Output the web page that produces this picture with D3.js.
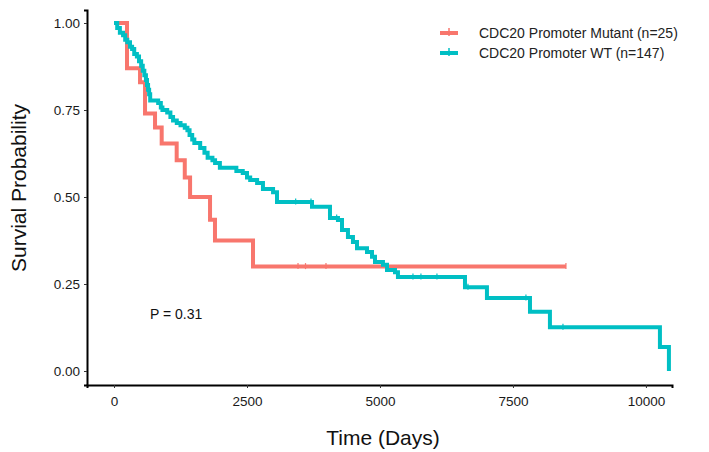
<!DOCTYPE html>
<html>
<head>
<meta charset="utf-8">
<script src="https://cdn.jsdelivr.net/npm/d3@7"></script>
<style>
  html, body { margin: 0; padding: 0; background: #fff; }
  svg { display: block; font-family: "Liberation Sans", Arial, sans-serif; }
</style>
</head>
<body>
<svg id="chart" width="709" height="452"></svg>
<script>
// ---- data ----
const seriesNames = ["CDC20 Promoter Mutant (n=25)", "CDC20 Promoter WT (n=147)"];
const seriesColors = ["#F8766D", "#00BFC4"];

// Mutant: time of each step (days) and survival after the step
const mutantTime = [0, 244, 489, 583, 771, 896, 1178, 1330, 1430, 1805, 1898, 2613, 8496];
const mutantSurv = [1.0, 0.87, 0.83, 0.74, 0.70, 0.654, 0.606, 0.556, 0.50, 0.435, 0.375, 0.30, 0.30];
const mutantCensor = [3459, 3600, 3985, 8496];

// WT
const wtTime = [0, 60, 110, 170, 210, 250, 300, 340, 380, 430, 470, 510, 540, 570, 600, 620, 640, 660, 680,
  830, 880, 910, 1000, 1060, 1110, 1180, 1250, 1330, 1380, 1420, 1470, 1510, 1620, 1700, 1760, 1850, 1900, 1990,
  2300, 2420, 2500, 2560, 2690, 2800, 2990, 3064, 3722, 4060, 4210, 4286, 4398, 4492, 4568, 4756, 4850, 4906,
  5056, 5132, 5282, 5338, 6598, 7011, 7820, 8195, 10263, 10432];
const wtSurv = [1.0, 0.986, 0.972, 0.965, 0.952, 0.945, 0.932, 0.925, 0.911, 0.904, 0.890, 0.877, 0.863, 0.850, 0.836, 0.822, 0.808, 0.795, 0.777,
  0.770, 0.757, 0.750, 0.743, 0.730, 0.720, 0.713, 0.706, 0.699, 0.692, 0.678, 0.665, 0.655, 0.641, 0.627, 0.613, 0.606, 0.598, 0.584,
  0.575, 0.569, 0.556, 0.549, 0.540, 0.523, 0.514, 0.486, 0.472, 0.440, 0.434, 0.405, 0.385, 0.371, 0.353, 0.342, 0.328, 0.313,
  0.305, 0.290, 0.284, 0.270, 0.241, 0.210, 0.170, 0.126, 0.069, 0.0];
const wtCensor = [3415, 3703, 4186, 5620, 5770, 6071, 6654, 7744, 8440];

const xTicks = [0, 2500, 5000, 7500, 10000];
const yTicks = [0, 0.25, 0.5, 0.75, 1.0];
const pValueLabel = "P = 0.31";
const xTitle = "Time (Days)";
const yTitle = "Survial Probability";

// ---- drawing ----
const svg = d3.select("#chart");
const x = d3.scaleLinear().domain([-508, 10490]).range([87, 672]);
const y = d3.scaleLinear().domain([-0.0402, 1.0374]).range([385, 10]);

function survAt(times, surv, t) {
  let s = surv[0];
  for (let i = 0; i < times.length; i++) { if (times[i] <= t) s = surv[i]; }
  return s;
}

// axes
const xAxis = svg.append("g").attr("transform", "translate(0,385)")
  .call(d3.axisBottom(x).tickValues(xTicks).tickFormat(d3.format("d")).tickSize(3).tickPadding(8));
const yAxis = svg.append("g").attr("transform", "translate(87,0)")
  .call(d3.axisLeft(y).tickValues(yTicks).tickFormat(d3.format(".2f")).tickSize(3).tickPadding(4));
[xAxis, yAxis].forEach(g => {
  g.select(".domain").attr("stroke", "#000").attr("stroke-width", 2);
  g.selectAll(".tick line").attr("stroke", "#333").attr("stroke-width", 1);
  g.selectAll(".tick text").attr("fill", "#1a1a1a").attr("font-size", 13.5)
    .attr("font-family", "'Liberation Sans', Arial, sans-serif");
});

// curves
const line = d3.line().x(d => x(d[0])).y(d => y(d[1])).curve(d3.curveStepAfter);
const series = [
  { t: mutantTime, s: mutantSurv, c: mutantCensor, color: seriesColors[0] },
  { t: wtTime, s: wtSurv, c: wtCensor, color: seriesColors[1] }
];
series.forEach(sr => {
  const pts = sr.t.map((t, i) => [t, sr.s[i]]);
  svg.append("path").datum(pts).attr("d", line)
    .attr("fill", "none").attr("stroke", sr.color).attr("stroke-width", 4)
    .attr("stroke-linejoin", "miter").attr("stroke-linecap", "butt");
  svg.selectAll(null).data(sr.c).enter().append("line")
    .attr("x1", d => x(d)).attr("x2", d => x(d))
    .attr("y1", d => y(survAt(sr.t, sr.s, d)) - 3.5)
    .attr("y2", d => y(survAt(sr.t, sr.s, d)) + 2.5)
    .attr("stroke", sr.color).attr("stroke-width", 1.2);
});

// legend
const leg = svg.append("g");
seriesNames.forEach((name, i) => {
  const ly = 33 + i * 20;
  leg.append("line").attr("x1", 440).attr("x2", 458).attr("y1", ly).attr("y2", ly)
    .attr("stroke", seriesColors[i]).attr("stroke-width", 4);
  leg.append("line").attr("x1", 449).attr("x2", 449).attr("y1", ly - 5).attr("y2", ly + 3)
    .attr("stroke", seriesColors[i]).attr("stroke-width", 1.5);
  leg.append("text").attr("x", 479).attr("y", ly + 5).attr("font-size", 14).attr("fill", "#222")
    .text(name);
});

// p-value
svg.append("text").attr("x", 150).attr("y", 319).attr("font-size", 14).attr("fill", "#111").text(pValueLabel);

// axis titles
svg.append("text").attr("x", 383).attr("y", 445).attr("text-anchor", "middle")
  .attr("font-size", 21).attr("fill", "#111").text(xTitle);
svg.append("text").attr("transform", "translate(26,188) rotate(-90)").attr("text-anchor", "middle")
  .attr("font-size", 21).attr("fill", "#111").text(yTitle);
</script>
</body>
</html>
